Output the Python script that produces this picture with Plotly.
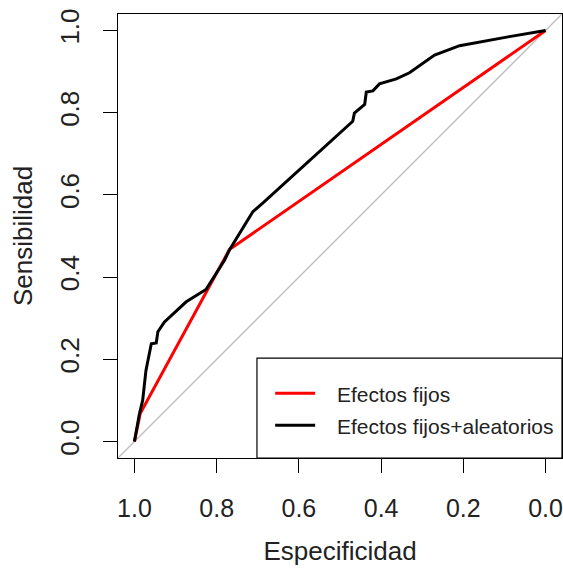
import plotly.graph_objects as go

# Data
fijos_spec = [1.0, 0.986, 0.769, 0.0]
fijos_sens = [0.0, 0.068, 0.467, 1.0]

mixto_spec = [1.0, 0.988, 0.980, 0.972, 0.959, 0.947, 0.943, 0.927, 0.874, 0.850,
              0.826, 0.781, 0.769, 0.712, 0.688, 0.469, 0.465, 0.440, 0.436, 0.420,
              0.404, 0.363, 0.331, 0.270, 0.209, 0.088, 0.0]
mixto_sens = [0.0, 0.067, 0.100, 0.173, 0.238, 0.240, 0.267, 0.291, 0.340, 0.356,
              0.370, 0.441, 0.466, 0.559, 0.580, 0.779, 0.799, 0.820, 0.850, 0.853,
              0.870, 0.882, 0.897, 0.940, 0.963, 0.985, 1.0]

tick_vals = [0.0, 0.2, 0.4, 0.6, 0.8, 1.0]
tick_text = ["0.0", "0.2", "0.4", "0.6", "0.8", "1.0"]
legend_labels = ["Efectos fijos", "Efectos fijos+aleatorios"]
legend_colors = ["#FF0000", "#000000"]

x_range = [1.04, -0.04]
y_range = [-0.04, 1.04]
FONT = "Liberation Sans, Arial, sans-serif"

fig = go.Figure()

# identity (chance) line across the full plotting region
fig.add_shape(type="line", xref="x", yref="y",
              x0=x_range[0], y0=1 - x_range[0], x1=x_range[1], y1=1 - x_range[1],
              line=dict(color="#BEBEBE", width=1.3), layer="below")

fig.add_trace(go.Scatter(x=fijos_spec, y=fijos_sens, mode="lines",
                         line=dict(color=legend_colors[0], width=3),
                         name=legend_labels[0], showlegend=False))
fig.add_trace(go.Scatter(x=mixto_spec, y=mixto_sens, mode="lines",
                         line=dict(color=legend_colors[1], width=3),
                         name=legend_labels[1], showlegend=False))

# legend box drawn manually (R-style)
lx0, ly1 = 0.313, 0.225
fig.add_shape(type="rect", xref="paper", yref="paper", x0=lx0, y0=0, x1=1, y1=ly1,
              line=dict(color="black", width=1.2), fillcolor="white", layer="below")
for i, (lab, col) in enumerate(zip(legend_labels, legend_colors)):
    yy = [0.146, 0.074][i]
    fig.add_shape(type="line", xref="paper", yref="paper", x0=0.354, x1=0.444, y0=yy, y1=yy,
                  line=dict(color=col, width=3))
    fig.add_annotation(xref="paper", yref="paper", x=0.489, y=yy - 0.004, text=lab,
                       showarrow=False, xanchor="left", yanchor="middle",
                       font=dict(family=FONT, size=21, color="#222"))

axis_common = dict(showgrid=False, zeroline=False, showline=True, mirror=True,
                   linecolor="black", linewidth=1.2, ticks="outside", ticklen=14,
                   tickwidth=1.2, tickcolor="black", tickvals=tick_vals, ticktext=tick_text)

fig.update_layout(
    width=563, height=569,
    margin=dict(l=118, r=1, t=14, b=111),
    paper_bgcolor="white", plot_bgcolor="white",
    xaxis=dict(range=x_range, title=dict(text="Especificidad", standoff=20,
               font=dict(family=FONT, size=26, color="#222")), ticklabelstandoff=14,
               tickfont=dict(family=FONT, size=25, color="#222"), **axis_common),
    yaxis=dict(range=y_range, title=dict(text="Sensibilidad", standoff=14,
               font=dict(family=FONT, size=26, color="#222")), tickangle=-90,
               ticklabelstandoff=14, tickfont=dict(family=FONT, size=26, color="#222"),
               **axis_common),
)

fig.write_html("out.html")
